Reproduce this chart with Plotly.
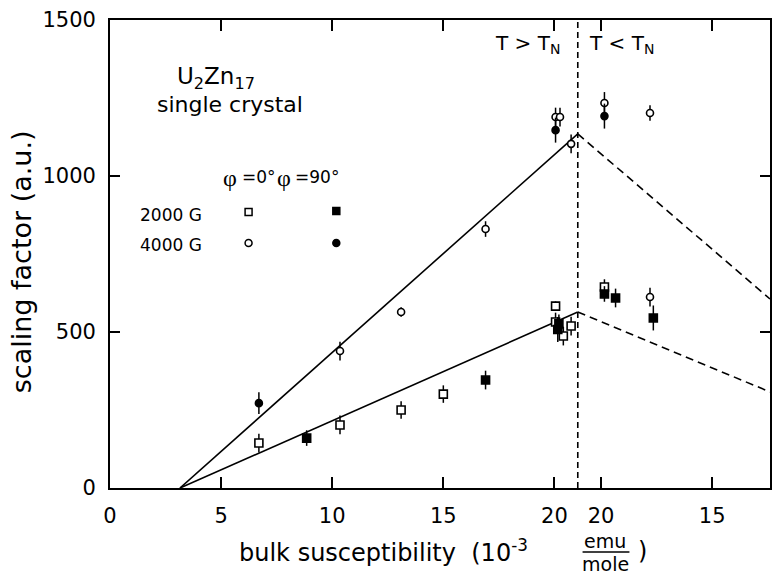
import plotly.graph_objects as go

# ---------------- data ----------------
X_FOLD = 21.05  # bulk susceptibility at T_N (axis folds here)

# T > T_N  (left half, x increasing)
open_sq_x = [6.7, 10.35, 13.1, 15.0, 20.05, 20.05, 20.4, 20.75]
open_sq_y = [144, 202, 250, 301, 583, 532, 487, 519]
open_sq_e = [30, 30, 28, 28, 15, 30, 30, 30]
fill_sq_x = [8.85, 16.9, 20.2, 20.15]
fill_sq_y = [160, 346, 526, 508]
fill_sq_e = [25, 30, 30, 40]
open_ci_x = [10.35, 13.1, 16.9, 20.05, 20.25, 20.75]
open_ci_y = [439, 564, 830, 1189, 1189, 1103]
open_ci_e = [30, 15, 25, 30, 30, 30]
fill_ci_x = [6.7, 20.05]
fill_ci_y = [272, 1147]
fill_ci_e = [35, 40]

# T < T_N  (right half, x decreasing)
open_sq_xb = [19.85]
open_sq_yb = [644]
open_sq_eb = [25]
fill_sq_xb = [19.85, 19.35, 17.65]
fill_sq_yb = [622, 609, 545]
fill_sq_eb = [25, 30, 40]
open_ci_xb = [19.85, 17.8, 17.8]
open_ci_yb = [1234, 1202, 612]
open_ci_eb = [35, 25, 30]
fill_ci_xb = [19.85]
fill_ci_yb = [1192]
fill_ci_eb = [40]

# fitted lines
fit_hi_x = [3.15, X_FOLD]
fit_hi_y = [0, 1135]
fit_lo_x = [3.15, X_FOLD]
fit_lo_y = [0, 564]
dash_hi_xb = [X_FOLD, 12.4]
dash_hi_yb = [1135, 606]
dash_lo_xb = [X_FOLD, 12.4]
dash_lo_yb = [564, 308]

tick_left = [0, 5, 10, 15, 20]
tick_right = [20, 15]
y_ticks = [0, 500, 1000, 1500]


def below(xs):
    return [2 * X_FOLD - x for x in xs]


FONT = "DejaVu Sans"
fig = go.Figure()


def add_pts(x, y, e, symbol, fill):
    fig.add_trace(go.Scatter(
        x=x, y=y, mode="markers",
        marker=dict(symbol=symbol, size=8 if symbol == "square" else 7,
                    color=fill, line=dict(color="black", width=1.6)),
        error_y=dict(type="data", array=e, color="black", thickness=1.5, width=0),
        showlegend=False, hoverinfo="skip"))


# lines
fig.add_trace(go.Scatter(x=fit_hi_x, y=fit_hi_y, mode="lines",
                         line=dict(color="black", width=1.6), showlegend=False))
fig.add_trace(go.Scatter(x=fit_lo_x, y=fit_lo_y, mode="lines",
                         line=dict(color="black", width=1.6), showlegend=False))
fig.add_trace(go.Scatter(x=below(dash_hi_xb), y=dash_hi_yb, mode="lines",
                         line=dict(color="black", width=1.6, dash="8px,5px"), showlegend=False))
fig.add_trace(go.Scatter(x=below(dash_lo_xb), y=dash_lo_yb, mode="lines",
                         line=dict(color="black", width=1.6, dash="8px,5px"), showlegend=False))
fig.add_trace(go.Scatter(x=[X_FOLD, X_FOLD], y=[0, 1500], mode="lines",
                         line=dict(color="black", width=1.6, dash="6px,4px"), showlegend=False))

add_pts(open_sq_x, open_sq_y, open_sq_e, "square", "white")
add_pts(fill_sq_x, fill_sq_y, fill_sq_e, "square", "black")
add_pts(open_ci_x, open_ci_y, open_ci_e, "circle", "white")
add_pts(fill_ci_x, fill_ci_y, fill_ci_e, "circle", "black")
add_pts(below(open_sq_xb), open_sq_yb, open_sq_eb, "square", "white")
add_pts(below(fill_sq_xb), fill_sq_yb, fill_sq_eb, "square", "black")
add_pts(below(open_ci_xb), open_ci_yb, open_ci_eb, "circle", "white")
add_pts(below(fill_ci_xb), fill_ci_yb, fill_ci_eb, "circle", "black")

W, H = 772, 576
L, R, T, B = 110, 0, 20, 88
PW, PH = W - L - R, H - T - B


def px(x):
    return (x - L) / PW


def py(y):
    return (H - B - y) / PH


def ann(text, x, y, size, xanchor="center", yanchor="middle", family=FONT, **kw):
    fig.add_annotation(text=text, x=px(x), y=py(y), xref="paper", yref="paper",
                       showarrow=False, xanchor=xanchor, yanchor=yanchor,
                       font=dict(family=family, size=size, color="black"), **kw)


def key(kind, cx, cy, filled, r=3.5):
    fig.add_shape(type=kind, xref="paper", yref="paper",
                  x0=px(cx - r), x1=px(cx + r), y0=py(cy + r), y1=py(cy - r),
                  line=dict(color="black", width=1.5),
                  fillcolor="black" if filled else "white")


ann("U<sub>2</sub>Zn<sub>17</sub>", 216, 78, 23)
ann("single crystal", 230, 104, 22)
ann("φ", 230, 178, 24, family="Liberation Serif")
ann("=0°", 240, 177, 17, xanchor="left")
ann("φ", 285, 178, 24, family="Liberation Serif")
ann("=90°", 294, 177, 17, xanchor="left")
ann("2000 G", 138, 215, 17, xanchor="left")
ann("4000 G", 138, 245, 17, xanchor="left")
key("rect", 249, 212, False)
key("rect", 337, 211, True)
key("circle", 249, 243, False)
key("circle", 337, 243, True)
ann("T &gt; T<sub>N</sub>", 529, 44, 20)
ann("T &lt; T<sub>N</sub>", 623, 44, 20)

# axis titles
ann("bulk susceptibility  (10<sup>-3</sup>", 237, 551, 24, xanchor="left")
ann("emu", 607, 541, 19)
ann("mole", 607, 564, 19)
ann(")", 644, 551, 24)
fig.add_shape(type="line", xref="paper", yref="paper", x0=px(584), x1=px(631),
              y0=py(552), y1=py(552), line=dict(color="black", width=1.5))
ann("scaling factor (a.u.)", 21, 262, 27, textangle=-90)

fig.update_layout(
    width=W, height=H, margin=dict(l=L, r=R, t=T, b=B),
    plot_bgcolor="white", paper_bgcolor="white",
    font=dict(family=FONT, size=21, color="black"),
    xaxis=dict(range=[0, 29.7], showgrid=False, zeroline=False,
               tickvals=tick_left + below(tick_right),
               ticktext=[str(v) for v in tick_left + tick_right],
               ticks="inside", ticklen=11, tickwidth=1.5, tickcolor="black",
               showline=True, linecolor="black", linewidth=1.8, mirror="ticks",
               ticklabelstandoff=8, tickfont=dict(size=21)),
    yaxis=dict(range=[0, 1500], showgrid=False, zeroline=False,
               tickvals=y_ticks, ticks="inside", ticklen=10, tickwidth=1.5,
               tickcolor="black", showline=True, linecolor="black", linewidth=1.8,
               mirror="ticks", ticklabelstandoff=8, tickfont=dict(size=21)),
)

fig.write_html("out.html")
